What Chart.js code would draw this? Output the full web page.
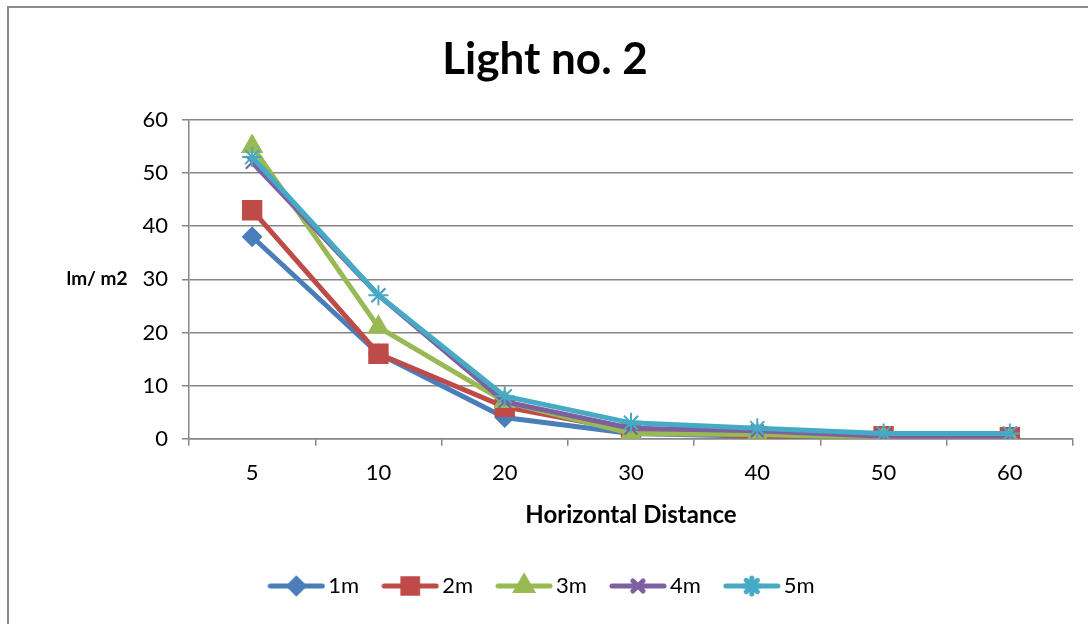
<!DOCTYPE html>
<html>
<head>
<meta charset="utf-8">
<script src="https://cdn.jsdelivr.net/npm/chart.js@4.4.1/dist/chart.umd.min.js"></script>
<style>
  html, body { margin: 0; padding: 0; background: #fff; }
  #wrap { width: 1088px; height: 624px; }
</style>
</head>
<body>
<div id="wrap"><canvas id="chart" width="1088" height="624"></canvas></div>
<script>
const distances = ['5', '10', '20', '30', '40', '50', '60'];

const light1m = [38, 16, 4, 1, 0.5, 0.3, 0.2];
const light2m = [43, 16, 6, 1.5, 0.5, 0.5, 0.3];
const light3m = [55, 21, 7, 1, 0.8, 0.2, 0];
const light4m = [52, 27, 7, 2, 1.5, 0.5, 0.5];
const light5m = [53, 27, 8, 3, 2, 1, 1];

const seriesNames = ['1m', '2m', '3m', '4m', '5m'];
const seriesColors = ['#4a7ebb', '#be4b48', '#98b954', '#7d60a0', '#46aac5'];
const seriesMarkers = ['rectRot', 'rect', 'triangle', 'crossRot', 'star'];
const markerSizes = [9, 13, 11, 9, 10];

const FONT = "Lato, 'Open Sans', sans-serif";
const ctx = document.getElementById('chart');

// little legend picture: line with the marker in the middle
function legendIcon(i) {
  const c = document.createElement('canvas');
  c.width = 58;
  c.height = 26;
  const g = c.getContext('2d');
  g.strokeStyle = seriesColors[i];
  g.lineWidth = 5;
  g.lineCap = 'round';
  g.beginPath();
  g.moveTo(3, 13);
  g.lineTo(55, 13);
  g.stroke();
  Chart.helpers.drawPoint(g, {
    pointStyle: seriesMarkers[i],
    radius: markerSizes[i] * 0.8,
    borderWidth: 2
  }, 29, 13);
  g.fillStyle = seriesColors[i];
  g.fill();
  g.lineWidth = 2;
  g.stroke();
  return c;
}

const values = [light1m, light2m, light3m, light4m, light5m];
const datasets = values.map((v, i) => ({
  label: seriesNames[i],
  data: v,
  borderColor: seriesColors[i],
  backgroundColor: seriesColors[i],
  borderWidth: 5,
  pointStyle: seriesMarkers[i],
  pointRadius: markerSizes[i],
  pointBorderWidth: 2,
  pointBorderColor: seriesColors[i],
  pointBackgroundColor: seriesColors[i],
  tension: 0,
  order: 4 - i
}));

const framePlugin = {
  id: 'frame',
  beforeDraw(chart) {
    const g = chart.ctx;
    g.save();
    g.fillStyle = '#fff';
    g.fillRect(0, 0, chart.width, chart.height);
    g.strokeStyle = '#8a8a8a';
    g.lineWidth = 2;
    g.beginPath();
    g.moveTo(8, chart.height);
    g.lineTo(8, 7);
    g.lineTo(chart.width, 7);
    g.stroke();
    g.restore();
  },
  afterDraw(chart) {
    // y axis title sits flat to the left of the labels
    const g = chart.ctx;
    const y = chart.scales.y;
    g.save();
    g.font = "bold 19px " + FONT;
    g.fillStyle = '#000';
    g.textAlign = 'center';
    g.textBaseline = 'middle';
    g.fillText('lm/ m2', 97, y.getPixelForValue(30));
    g.restore();
  }
};

new Chart(ctx, {
  type: 'line',
  data: { labels: distances, datasets: datasets },
  plugins: [framePlugin],
  options: {
    responsive: false,
    animation: false,
    layout: { padding: { left: 8, right: 6, top: 7, bottom: 17 } },
    plugins: {
      title: {
        display: true,
        text: 'Light no. 2',
        color: '#000',
        font: { family: FONT, size: 44, weight: 'bold' },
        padding: { top: 26, bottom: 34 }
      },
      legend: {
        position: 'bottom',
        labels: {
          usePointStyle: true,
          pointStyleWidth: 42,
          color: '#000',
          font: { family: FONT, size: 22 },
          padding: 30,
          generateLabels(chart) {
            return seriesNames.map((name, i) => ({
              text: name,
              pointStyle: legendIcon(i),
              datasetIndex: i,
              fillStyle: seriesColors[i],
              strokeStyle: seriesColors[i],
              lineWidth: 0,
              hidden: false
            }));
          }
        }
      },
      tooltip: { enabled: false }
    },
    scales: {
      x: {
        offset: true,
        grid: {
          offset: true,
          drawOnChartArea: false,
          drawTicks: true,
          tickLength: 7,
          color: '#868686',
          lineWidth: 1.5
        },
        border: { color: '#868686', width: 1.5 },
        ticks: { color: '#000', font: { family: FONT, size: 22 }, padding: 14 },
        title: {
          display: true,
          text: 'Horizontal Distance',
          color: '#000',
          font: { family: FONT, size: 24, weight: 'bold' },
          padding: { top: 1, bottom: 15 }
        }
      },
      y: {
        min: 0,
        max: 60,
        ticks: { stepSize: 10, color: '#000', font: { family: FONT, size: 22 }, padding: 14 },
        grid: { color: '#868686', lineWidth: 1.5, tickLength: 7 },
        border: { color: '#868686', width: 1.5 },
        afterFit(scale) { scale.width = 181; }
      }
    }
  }
});
</script>
</body>
</html>
